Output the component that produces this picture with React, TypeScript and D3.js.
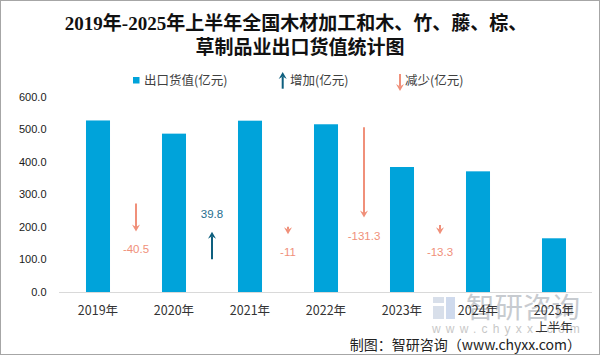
import React from 'react';
import * as d3 from 'd3';

const years = ['2019年', '2020年', '2021年', '2022年', '2023年', '2024年', '2025年'];
const yearSub = ['', '', '', '', '', '', '上半年'];
const exportValues = [527.0, 486.5, 526.3, 515.3, 384.0, 370.7, 165.0];
const changes = [-40.5, 39.8, -11, -131.3, -13.3];
// helper series (secondary axis): value where each arrow starts
const changeStart = [128.6, 47.8, 95, 239.6, 97.4];
const yTicks = [0, 100, 200, 300, 400, 500, 600];

const W = 601;
const H = 356;
const BAR = '#00A3DA';
const UP = '#0E5F7E';
const DOWN = '#F0907A';
const SANS = '"Liberation Sans", "Noto Sans CJK SC", sans-serif';
const CJK = '"Noto Sans CJK SC", "Liberation Sans", sans-serif';

function arrowHead(x: number, tipY: number, dir: number, color: string, key: string) {
  // dir = 1 pointing down, -1 pointing up
  const L = 7;
  const hw = 4;
  const notch = 4.5;
  const d = `M${x},${tipY} L${x - hw},${tipY - dir * L} L${x},${tipY - dir * notch} L${x + hw},${tipY - dir * L} Z`;
  return <path key={key} d={d} fill={color} />;
}

function Arrow({ x, y1, y2, color }: { x: number; y1: number; y2: number; color: string }) {
  const dir = y2 > y1 ? 1 : -1;
  const shaftEnd = y2 - dir * 4.5;
  const showShaft = (shaftEnd - y1) * dir > 0;
  return (
    <g>
      {showShaft && <line x1={x} x2={x} y1={y1} y2={shaftEnd} stroke={color} strokeWidth={2} />}
      {arrowHead(x, y2, dir, color, 'h')}
    </g>
  );
}

export default function App() {
  const x = d3.scaleBand<string>().domain(years).range([60, 592]).paddingInner(0).paddingOuter(0);
  const y = d3.scaleLinear().domain([0, 600]).range([292, 96.7]);
  const yc = d3.scaleLinear().domain([0, 284]).range([292, 96.7]);
  const barW = x.bandwidth() * 0.316;

  return (
    <svg width={W} height={H} style={{ position: 'absolute', left: 0, top: 0, display: 'block' }}>
      <rect x={0} y={0} width={W} height={H} fill="#fff" />
      <rect x={0.5} y={0.5} width={599} height={354} fill="none" stroke="#a6a6a6" strokeWidth={1} />

      {/* title */}
      <g fontFamily={'"Liberation Serif", "Noto Sans CJK SC", serif'} fontWeight="bold" fontSize={19} fill="#111" textAnchor="middle">
        <text x={296} y={30}>2019年-2025年上半年全国木材加工和木、竹、藤、棕、</text>
        <text x={300} y={54}>草制品业出口货值统计图</text>
      </g>

      {/* legend */}
      <g fontFamily={CJK} fontSize={12.5} fill="#404040">
        <rect x={133} y={77} width={6.5} height={6.5} fill={BAR} />
        <text x={144} y={84.5}>出口货值(亿元)</text>
        <Arrow x={282.7} y1={88.7} y2={72} color={UP} />
        <text x={290} y={84.5}>增加(亿元)</text>
        <Arrow x={400} y1={74} y2={91} color={DOWN} />
        <text x={405} y={84.5}>减少(亿元)</text>
      </g>

      {/* watermark */}
      <g opacity={0.55}>
        <rect x={433} y={297} width={11} height={6} fill="#b9c6da" />
        <rect x={433} y={306} width={11} height={13} fill="#b9c6da" />
        <rect x={446} y={297} width={9} height={22} fill="#a9bde0" />
        <text x={466} y={318} fontFamily={CJK} fontSize={28.5} fill="#9aa1aa">智研咨询</text>
        <text x={432} y={333} fontFamily={SANS} fontSize={12} fill="#9a9a9a" letterSpacing={5.2}>www.chyxx.com</text>
      </g>

      {/* y axis labels */}
      <g fontFamily={SANS} fontSize={11} fill="#1a1a1a" textAnchor="end">
        {yTicks.map((t) => (
          <text key={t} x={46.5} y={y(t) + 4}>{t.toFixed(1)}</text>
        ))}
      </g>

      {/* bars */}
      {exportValues.map((v, i) => {
        const cx = (x(years[i]) as number) + x.bandwidth() / 2;
        return <rect key={i} x={cx - barW / 2} y={y(v)} width={barW} height={y(0) - y(v)} fill={BAR} />;
      })}

      {/* x axis */}
      <line x1={59} x2={592} y1={292.5} y2={292.5} stroke="#d9d9d9" strokeWidth={1} />
      <g fontFamily={CJK} fontSize={12.5} fill="#333" textAnchor="middle">
        {years.map((yr, i) => {
          const cx = (x(yr) as number) + x.bandwidth() / 2;
          return (
            <g key={yr}>
              <text x={cx} y={315}>{yr}</text>
              {yearSub[i] && <text x={cx} y={332}>{yearSub[i]}</text>}
            </g>
          );
        })}
      </g>

      {/* change arrows */}
      {changes.map((c, i) => {
        const ax = (x(years[i]) as number) + x.bandwidth();
        const y1 = yc(changeStart[i]);
        const y2 = yc(changeStart[i] + c);
        const color = c >= 0 ? UP : DOWN;
        const ly = c >= 0 ? y2 - 14 : y2 + 22;
        return (
          <g key={i}>
            <Arrow x={ax} y1={y1} y2={y2} color={color} />
            <text x={ax} y={ly} textAnchor="middle" fontFamily={SANS} fontSize={11.5} fill={c >= 0 ? '#1F6E8E' : DOWN}>
              {String(c)}
            </text>
          </g>
        );
      })}

      {/* footer */}
      <text x={581} y={350} textAnchor="end" fontFamily={CJK} fontSize={14} fill="#222">制图：智研咨询（www.chyxx.com）</text>
    </svg>
  );
}
